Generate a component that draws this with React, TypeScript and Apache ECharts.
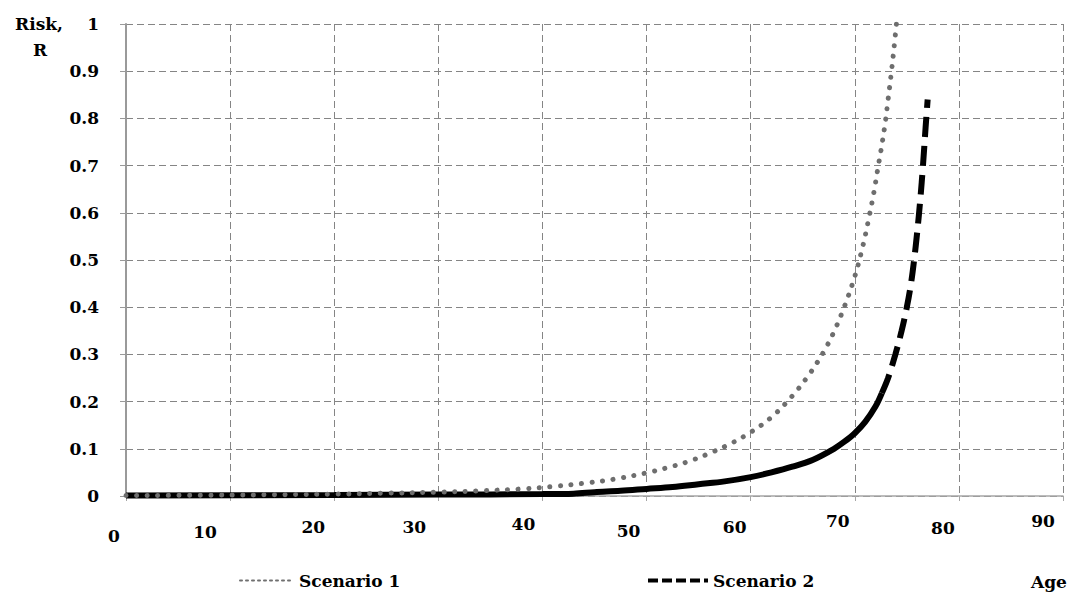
import React, { useEffect, useRef } from "react";
import * as echarts from "echarts";

// Scenario 1 (grey dotted)
const s1Age = [0, 10, 20, 25, 30, 34, 38, 41, 44, 47, 50, 52, 54, 56, 58, 60, 62, 64, 65.7, 67, 68, 69, 70, 70.8, 71.3, 71.85, 72.2, 72.5, 72.9, 73.2, 73.5, 73.75, 74.0];
const s1Risk = [0.001, 0.002, 0.004, 0.006, 0.008, 0.011, 0.015, 0.02, 0.027, 0.036, 0.049, 0.06, 0.073, 0.09, 0.11, 0.135, 0.167, 0.212, 0.26, 0.305, 0.348, 0.401, 0.465, 0.532, 0.583, 0.645, 0.692, 0.73, 0.787, 0.84, 0.895, 0.945, 1.0];

// Scenario 2 (black): low part looks solid, steep part dashed
const s2AgeSolid = [0, 20, 30, 40, 43, 45, 47.5, 50, 52.5, 55, 57.5, 60, 62, 64, 66, 68, 69, 70, 71, 72, 72.6];
const s2RiskSolid = [0.001, 0.002, 0.003, 0.004, 0.005, 0.008, 0.011, 0.015, 0.019, 0.025, 0.031, 0.04, 0.05, 0.062, 0.077, 0.1, 0.115, 0.133, 0.157, 0.19, 0.218];
const s2AgeDash = [72.6, 73.2, 73.9, 74.5, 75.0, 75.4, 75.7, 76.0, 76.3, 76.55, 76.8, 77.0];
const s2RiskDash = [0.218, 0.25, 0.3, 0.35, 0.4, 0.45, 0.5, 0.56, 0.63, 0.7, 0.78, 0.84];

const seriesNames = ["Scenario 1", "Scenario 2"];
const yName = ["Risk,", "R"];
const xName = "Age";

// per-label nudges of the x tick labels (style only): horizontal / vertical shift in px
const xLabelDx = [-12, -25, -21, -24, -19, -18, -16, -17, -16, -20];
const xLabelDy = [15, 11, 6, 6, 3, 10, 6, 0, 7, 0];

const pair = (xs: number[], ys: number[]) => xs.map((x, i) => [x, ys[i]]);

export default function App() {
  const ref = useRef<HTMLDivElement>(null);
  useEffect(() => {
    const chart = echarts.init(ref.current!, null, { renderer: "svg" });
    const font = "DejaVu Serif";
    const labelStyle = { fontFamily: font, fontWeight: "bold" as const, fontSize: 17, color: "#000" };
    const rich: Record<string, any> = {};
    xLabelDx.forEach((dx, i) => {
      rich["t" + i] = {
        ...labelStyle,
        padding: [xLabelDy[i], Math.max(0, -2 * dx), 0, Math.max(0, 2 * dx)],
      };
    });
    chart.setOption({
      animation: false,
      backgroundColor: "#fff",
      grid: { left: 126, right: 7, top: 24, bottom: 96 },
      xAxis: {
        type: "value",
        min: 0,
        max: 90,
        interval: 10,
        axisLine: { show: true, lineStyle: { color: "#a6a6a6", width: 1.5 } },
        axisTick: { show: true, length: 5, lineStyle: { color: "#a6a6a6" } },
        splitLine: { show: true, lineStyle: { type: [7, 4], color: "#858585", width: 1 } },
        axisLabel: {
          ...labelStyle,
          margin: 16,
          formatter: (v: number) => `{t${Math.round(v / 10)}|${v}}`,
          rich,
        },
      },
      yAxis: {
        type: "value",
        min: 0,
        max: 1,
        interval: 0.1,
        axisLine: { show: true, lineStyle: { color: "#9a9a9a", width: 2 } },
        axisTick: { show: true, length: 6, lineStyle: { color: "#9a9a9a" } },
        splitLine: { show: true, lineStyle: { type: [7, 4], color: "#858585", width: 1 } },
        axisLabel: { ...labelStyle, margin: 27, padding: [6, 0, 0, 0] },
      },
      legend: [
        {
          data: [seriesNames[0]],
          left: 234,
          top: 567,
          itemWidth: 54,
          itemHeight: 14,
          selectedMode: false,
          textStyle: labelStyle,
          lineStyle: { width: 2, type: [2, 4], color: "#707070" },
          itemStyle: { opacity: 0 },
        },
        {
          data: [seriesNames[1]],
          left: 641,
          top: 567,
          itemWidth: 60,
          itemHeight: 14,
          selectedMode: false,
          textStyle: labelStyle,
          lineStyle: { width: 4, type: [10, 4], color: "#000" },
          itemStyle: { opacity: 0 },
        },
      ],
      graphic: [
        { type: "text", x: 39, y: 24, style: { text: yName[0], font: `bold 17px '${font}'`, fill: "#000", align: "center", verticalAlign: "middle" } },
        { type: "text", x: 40, y: 50, style: { text: yName[1], font: `bold 17px '${font}'`, fill: "#000", align: "center", verticalAlign: "middle" } },
        { type: "text", x: 1049, y: 582, style: { text: xName, font: `bold 17px '${font}'`, fill: "#000", align: "center", verticalAlign: "middle" } },
      ],
      series: [
        {
          name: seriesNames[1] + " (low)",
          type: "line",
          data: pair(s2AgeSolid, s2RiskSolid),
          showSymbol: false,
          symbol: "none",
          smooth: 0.35,
          lineStyle: { color: "#000", width: 6 },
          z: 3,
        },
        {
          name: seriesNames[1],
          type: "line",
          data: pair(s2AgeDash, s2RiskDash),
          showSymbol: false,
          symbol: "none",
          smooth: 0.35,
          lineStyle: { color: "#000", width: 6, type: [20, 9] },
          z: 3,
        },
        {
          name: seriesNames[0],
          type: "line",
          data: pair(s1Age, s1Risk),
          showSymbol: false,
          symbol: "none",
          smooth: 0.35,
          lineStyle: { color: "#6e6e6e", width: 5, type: [0.1, 10.5], cap: "round" },
          z: 4,
        },
      ],
    });
    return () => chart.dispose();
  }, []);
  return (
    <div
      ref={ref}
      style={{ position: "fixed", left: 0, top: 0, width: 1070, height: 592, background: "#fff" }}
    />
  );
}
